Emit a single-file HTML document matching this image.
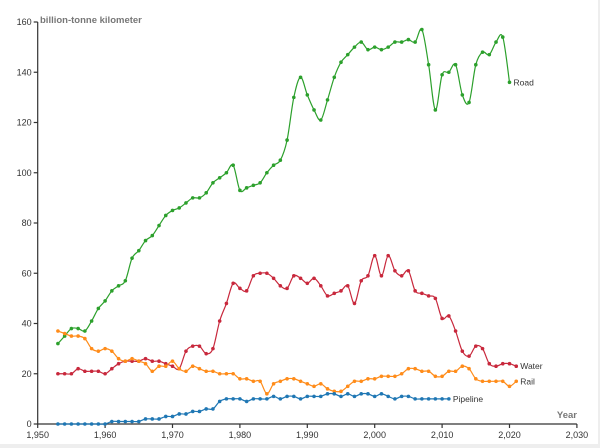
<!DOCTYPE html>
<html><head><meta charset="utf-8"><style>
html,body{margin:0;padding:0;background:#fff}
svg{display:block;font-family:"Liberation Sans","DejaVu Sans",sans-serif}
</style></head><body>
<svg id="s" width="600" height="448" viewBox="0 0 600 448">
<rect x="0" y="0" width="600" height="448" fill="#fff"/>
<rect x="598" y="0" width="2" height="448" fill="#eee"/>
<rect x="0" y="444" width="600" height="4" fill="#eee"/>
<g id="ax" stroke="#333" stroke-width="1.2" fill="none"></g>
<g id="tx" font-size="9" fill="#333"></g>
<text x="40" y="23" font-size="9.5" font-weight="bold" fill="#777">billion-tonne kilometer</text>
<text x="577" y="418" font-size="9.5" font-weight="bold" fill="#777" text-anchor="end">Year</text>
<g id="series"></g>
</svg>
<script>
var X=function(y){return 37.7+(y-1950)*6.74},Y=function(v){return 424-v*2.5125};
var ax=document.getElementById('ax'),tx=document.getElementById('tx'),NS='http://www.w3.org/2000/svg';
function el(p,t,a,txt){var e=document.createElementNS(NS,t);for(var k in a)e.setAttribute(k,a[k]);if(txt)e.textContent=txt;p.appendChild(e);return e;}
el(ax,'path',{d:'M'+X(1950)+' 22V424H'+X(2030)});
for(var v=0;v<=160;v+=20){el(ax,'path',{d:'M'+(X(1950)-4)+' '+Y(v)+'h4'});el(tx,'text',{x:X(1950)-6,y:Y(v)+3,'text-anchor':'end'},String(v));}
for(var y=1950;y<=2030;y+=10){el(ax,'path',{d:'M'+X(y)+' 424v4'});el(tx,'text',{x:X(y),y:438,'text-anchor':'middle'},y.toLocaleString('en-US'));}
var S=[
{c:'#2ca02c',n:'Road',d:[32,35,38,38,37,41,46,49,53,55,57,66,69,73,75,79,83,85,86,88,90,90,92,96,98,100,103,93,94,95,96,100,103,105,113,130,138,131,125,121,129,138,144,147,150,152,149,150,149,150,152,152,153,152,157,143,125,139,140,143,131,128,143,148,147,152,154,136]},
{c:'#c8283c',n:'Water',d:[20,20,20,22,21,21,21,20,22,24,25,25,25,26,25,25,24,23,22,29,31,31,28,30,41,48,56,54,53,59,60,60,58,55,54,59,58,56,58,55,51,52,53,55,48,57,59,67,59,67,61,59,61,53,52,51,50,42,43,37,29,27,31,30,24,23,24,24,23]},
{c:'#ff8c1a',n:'Rail',d:[37,36,35,35,34,30,29,30,29,26,25,26,25,24,21,23,23,25,22,21,23,22,21,21,20,20,20,18,18,17,17,12,16,17,18,18,17,16,15,16,14,13,13,15,17,17,18,18,19,19,19,20,22,22,21,21,19,19,21,21,23,22,18,17,17,17,17,15,17]},
{c:'#1f77b4',n:'Pipeline',d:[0,0,0,0,0,0,0,0,1,1,1,1,1,2,2,2,3,3,4,4,5,5,6,6,9,10,10,10,9,10,10,10,11,10,11,11,10,11,11,11,12,12,11,12,11,12,12,11,12,11,10,11,11,10,10,10,10,10,10]}
];
var g=document.getElementById('series');
S.forEach(function(s){
 var p=s.d.map(function(v,i){return [X(1953+i),Y(v)];});
 var d='M'+p[0][0]+' '+p[0][1];
 for(var i=0;i<p.length-1;i++){
  var p0=p[i-1]||p[i],p1=p[i],p2=p[i+1],p3=p[i+2]||p2,t=6;
  d+='C'+(p1[0]+(p2[0]-p0[0])/t)+' '+(p1[1]+(p2[1]-p0[1])/t)+' '+(p2[0]-(p3[0]-p1[0])/t)+' '+(p2[1]-(p3[1]-p1[1])/t)+' '+p2[0]+' '+p2[1];
 }
 el(g,'path',{d:d,fill:'none',stroke:s.c,'stroke-width':1.2});
 p.forEach(function(q){el(g,'circle',{cx:q[0],cy:q[1],r:1.8,fill:s.c});});
 var l=p[p.length-1];
 el(g,'text',{x:l[0]+4,y:l[1]+3,'font-size':'8.5',fill:'#333'},s.n);
});
</script>
</body></html>
